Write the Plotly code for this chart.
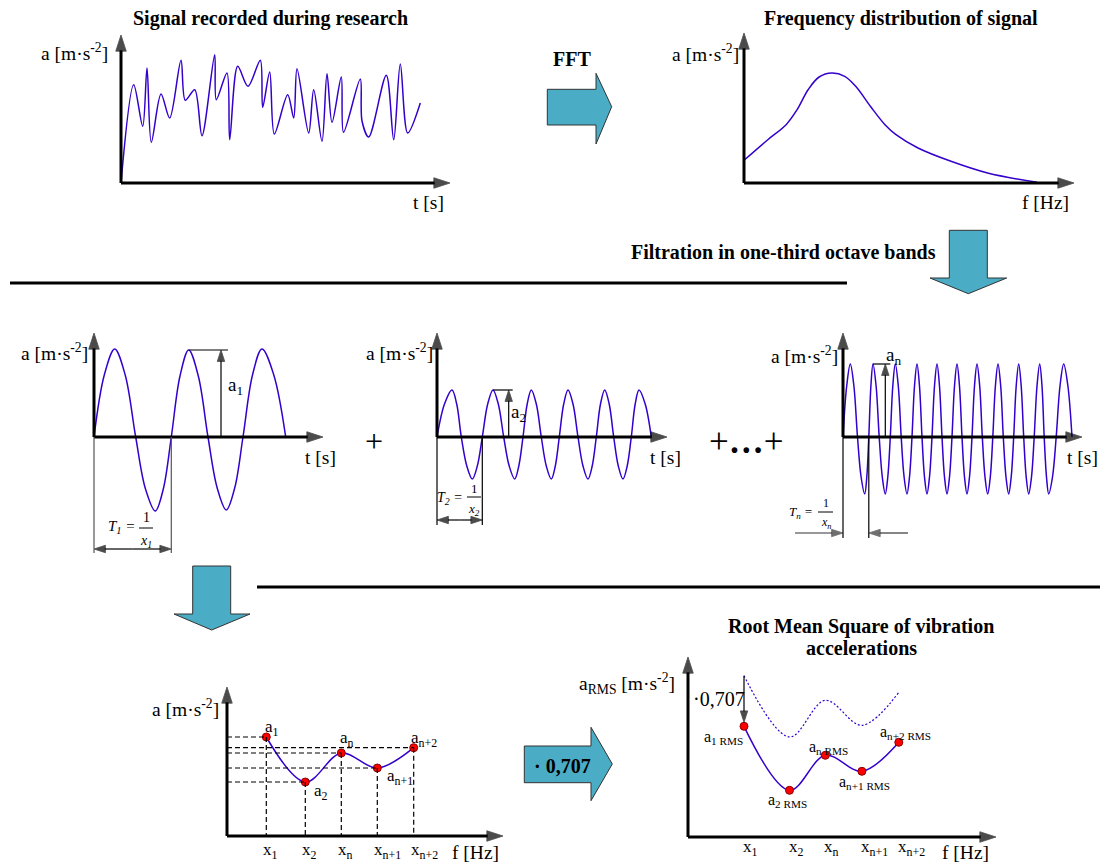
import plotly.graph_objects as go

W, H = 1102, 863
FONT = "Liberation Serif"
BLUE = "#3300CC"
ARROW_FILL = "#4BACC6"

# ---------------- data (arbitrary units) ----------------
# recorded signal: time / acceleration extremes
sig_t = [0, 12.7, 21.7, 26, 30.3, 40, 48.7, 60, 64.3, 73.7, 81, 93.7, 95.3, 106, 108.7,
         116.7, 127, 139.3, 141.7, 148.7, 153.3, 166.7, 172.7, 176, 187.7, 192.7, 201,
         206, 211, 220.3, 222.5, 239.3, 241, 247.7, 265.3, 272.7, 279.3, 286.7, 299.3]
sig_a = [0, 98.3, 56.7, 115, 40.7, 89, 65, 122.7, 82.7, 93.3, 47.3, 128.3, 83.3, 110, 43.3,
         116.7, 96.7, 122.7, 75.7, 111, 49, 88.3, 65, 114.3, 50, 93.3, 41.7,
         109.3, 60.7, 106, 50.7, 104, 62, 46, 107.7, 43.3, 119, 50, 80]

# frequency distribution
fft_f = [0, 23.8, 42.1, 53.1, 64.1, 75.1, 87.9, 100.7, 111.7, 126.4, 141, 152, 174, 207,
         243.6, 293]
fft_a = [22.7, 43.3, 58.3, 73.3, 93.3, 106, 110, 106.7, 96.7, 76.7, 58.3, 48.3, 35, 21.7,
         10, 0.7]

# band 1 sine
s1_t = [0, 10.3, 20.7, 31.2, 41.7, 51.5, 61.3, 69.3, 77.3, 86, 94.7, 104.3, 114, 123.2,
        132.3, 140.7, 149, 158.5, 168, 179.8, 191.7]
s1_a = [0, 62, 88, 62, 0, -52, -74, -52, 0, 61, 87, 61, 0, -51, -73, -51, 0, 62, 88, 62, 0]

# band 2 sine
s2_t = [0, 7.5, 15, 19.7, 24.3, 29.8, 35.3, 40.3, 45.3, 50.7, 56, 61.3, 66.7, 72.2, 77.7,
        81.8, 86, 90.2, 94.3, 99.3, 104.3, 109.3, 114.3, 118.3, 122.3, 126.7, 131, 136,
        141, 146, 151, 155.2, 159.3, 163.5, 167.7, 172.2, 176.7, 181.3, 186, 190.2, 194.3,
        198.2, 202, 208.2, 214.3]
s2_a = [0, 33, 47, 33, 0, -29, -42, -29, 0, 33, 47, 33, 0, -29, -42, -29, 0, 33, 47, 33, 0,
        -29, -42, -29, 0, 33, 47, 33, 0, -29, -42, -29, 0, 33, 47, 33, 0, -29, -42, -29, 0,
        33, 47, 33, 0]

# band n sine
sn_t = [0, 3.7, 7.3, 10.9, 14.5, 18.1, 21.7, 23.8, 25.8, 27.9, 30, 33.1, 36.2, 39.3, 42.3,
        44.8, 47.3, 49.8, 52.3, 55.3, 58.2, 61.1, 64, 66.5, 69, 71.5, 74, 76.5, 79, 81.5,
        84, 86.5, 89, 91.5, 94, 96.5, 99, 101.5, 104, 106.5, 109, 111.5, 114, 116.5, 119,
        121.5, 124, 126.5, 129, 131.5, 134, 136.7, 139.3, 142, 144.7, 147.3, 149.8, 152.4,
        155, 157.7, 160.3, 163, 165.7, 168.2, 170.7, 173.2, 175.7, 178.2, 180.7, 183.2,
        185.7, 188.5, 191.2, 194, 196.7, 199, 201.2, 203.5, 205.7, 209.5, 213.2, 217,
        220.7, 224.9, 229]
sn_a = [0, 51, 73, 51, 0, -40, -57, -40, 0, 51, 73, 51, 0, -40, -57, -40, 0,
        51, 73, 51, 0, -40, -57, -40, 0, 51, 73, 51, 0, -40, -57, -40, 0,
        51, 73, 51, 0, -40, -57, -40, 0, 51, 73, 51, 0, -40, -57, -40, 0,
        51, 73, 51, 0, -40, -57, -40, 0, 51, 73, 51, 0, -40, -57, -40, 0,
        51, 73, 51, 0, -40, -57, -40, 0, 51, 73, 51, 0, -40, -57, -40, 0,
        51, 73, 51, 0]

# band amplitudes
band_x = [39.3, 78.3, 114.3, 150.3, 186.7]
band_a = [99, 54, 83, 68, 88.3]
band_labels = ["a<sub>1</sub>", "a<sub>2</sub>", "a<sub>n</sub>", "a<sub>n+1</sub>", "a<sub>n+2</sub>"]
tick_labels = ["x<sub>1</sub>", "x<sub>2</sub>", "x<sub>n</sub>", "x<sub>n+1</sub>", "x<sub>n+2</sub>"]

# RMS
rms_x = [56, 101.5, 137.3, 173.9, 210.8]
rms_peak = [161.3, 100, 136.7, 111.7, 144.7]
rms_val = [110.7, 46.7, 81.7, 65.7, 94.7]
rms_labels = ["a<sub>1 RMS</sub>", "a<sub>2 RMS</sub>", "a<sub>n RMS</sub>",
              "a<sub>n+1 RMS</sub>", "a<sub>n+2 RMS</sub>"]

# ---------------- layout helpers ----------------
# panel: axis index, origin pixel (x, y), axis lengths (x, y) in px
panels = {
    "sig": (1, 121, 183, 329, 148),
    "fft": (2, 744, 183, 330, 150),
    "A":   (3, 94, 437, 229, 104),
    "B":   (4, 437, 437, 230, 104),
    "C":   (5, 843, 437, 239, 104),
    "D":   (6, 227, 836, 276, 149),
    "R":   (7, 688, 837, 308, 180),
}

layout = dict(width=W, height=H, margin=dict(l=0, r=0, t=0, b=0),
              paper_bgcolor="white", plot_bgcolor="rgba(0,0,0,0)", showlegend=False)


def axname(i, c):
    return f"{c}axis" if i == 1 else f"{c}axis{i}"


def ref(i, c):
    return c if i == 1 else f"{c}{i}"


for key, (i, ox, oy, lx, ly) in panels.items():
    layout[axname(i, "x")] = dict(domain=[0, 1], range=[-ox, W - ox], visible=False,
                                  fixedrange=True, anchor=ref(i, "y"))
    layout[axname(i, "y")] = dict(domain=[0, 1], range=[-(H - oy), oy], visible=False,
                                  fixedrange=True, anchor=ref(i, "x"))
# pixel axis for decorations
layout["xaxis8"] = dict(domain=[0, 1], range=[0, W], visible=False, fixedrange=True, anchor="y8")
layout["yaxis8"] = dict(domain=[0, 1], range=[H, 0], visible=False, fixedrange=True, anchor="x8")

fig = go.Figure()
annotations = []
shapes = []


def xr(p):
    return ref(panels[p][0], "x")


def yr(p):
    return ref(panels[p][0], "y")


def curve(p, x, y, width=1.5, dash="solid", smoothing=1.0):
    fig.add_trace(go.Scatter(x=x, y=y, xaxis=xr(p), yaxis=yr(p), mode="lines",
                             line=dict(color=BLUE, width=width, shape="spline",
                                       smoothing=smoothing, dash=dash),
                             hoverinfo="skip"))


def dots(p, x, y):
    fig.add_trace(go.Scatter(x=x, y=y, xaxis=xr(p), yaxis=yr(p), mode="markers",
                             marker=dict(size=8, color="#FF0000",
                                         line=dict(color="#8B0000", width=1)),
                             hoverinfo="skip"))


def arrow(p, x0, y0, x1, y1, width=1.2, size=12, color="black", standoff=0):
    """Line from (x0,y0) with an arrow head at (x1,y1)."""
    fig.add_trace(go.Scatter(
        x=[x0, x1], y=[y0, y1], xaxis=xr(p), yaxis=yr(p), mode="lines+markers",
        line=dict(color=color, width=width),
        marker=dict(symbol=["circle", "arrow"], size=[0, size], angleref="previous",
                    color=color, standoff=[0, standoff], line=dict(width=0.8, color=color)),
        hoverinfo="skip"))


def double_arrow(p, x0, x1, y, width=1.2, size=12, color="black"):
    xm = (x0 + x1) / 2
    arrow(p, xm, y, x0, y, width, size, color)
    arrow(p, xm, y, x1, y, width, size, color)


def axes(p):
    _, ox, oy, lx, ly = panels[p]
    arrow(p, 0, 0, lx, 0, width=3, size=17)
    arrow(p, 0, 0, 0, ly, width=3, size=17)


def line(p, x0, y0, x1, y1, width=1.2, color="black", dash="solid"):
    shapes.append(dict(type="line", xref=xr(p), yref=yr(p), x0=x0, y0=y0, x1=x1, y1=y1,
                       line=dict(color=color, width=width, dash=dash)))


def pline(x0, y0, x1, y1, width=1, color="black"):
    shapes.append(dict(type="line", xref="x8", yref="y8", x0=x0, y0=y0, x1=x1, y1=y1,
                       line=dict(color=color, width=width)))


def txt(x, y, text, size=19.5, xanchor="center", bold=False, italic=False, yanchor="middle"):
    if bold:
        text = f"<b>{text}</b>"
    if italic:
        text = f"<i>{text}</i>"
    annotations.append(dict(x=x, y=y, xref="x8", yref="y8", text=text, showarrow=False,
                            xanchor=xanchor, yanchor=yanchor,
                            font=dict(family=FONT, size=size, color="black")))


def block_arrow(path):
    shapes.append(dict(type="path", xref="x8", yref="y8", path=path,
                       fillcolor=ARROW_FILL, line=dict(color="#333333", width=1)))


AXLAB = "a [m·s<sup>-2</sup>]"

# ---------------- panel 1: signal ----------------
curve("sig", sig_t, sig_a, width=1.5, smoothing=0.9)
axes("sig")
txt(270, 18, "Signal recorded during research", 20, bold=True)
txt(110, 52, AXLAB, xanchor="right")
txt(428, 202, "t [s]")

# ---------------- FFT arrow ----------------
block_arrow("M547.3,89.3 L596,89.3 L596,73.3 L611.7,106.7 L596,144 L596,125 L547.3,125 Z")
txt(572, 59, "FFT", 20, bold=True)

# ---------------- panel 2: spectrum ----------------
curve("fft", fft_f, fft_a, width=1.5)
axes("fft")
txt(901, 18, "Frequency distribution of signal", 20, bold=True)
txt(741, 53, AXLAB, xanchor="right")
txt(1045, 202, "f [Hz]")

# ---------------- filtration ----------------
txt(783, 252, "Filtration in one-third octave bands", 20, bold=True)
block_arrow("M949.3,230.3 L987.3,230.3 L987.3,278 L1006.7,278 L968.3,293.7 L930,278 L949.3,278 Z")
pline(10, 283, 847, 283, width=3)

# ---------------- panel A ----------------
curve("A", s1_t, s1_a)
axes("A")
txt(90, 352, AXLAB, xanchor="right")
txt(320, 457, "t [s]")
arrow("A", 127, 0, 127, s1_a[10])
line("A", s1_t[10], s1_a[10], 134, s1_a[10])
txt(226, 386, "a<sub>1</sub>", 19, xanchor="left")
line("A", 0, 0, 0, -116, color="#555555")
line("A", s1_t[8], 0, s1_t[8], -116, color="#555555")
double_arrow("A", 0, s1_t[8], -112)
txt(137, 527, "T<sub>1</sub> =", 15, xanchor="right", italic=True)
txt(146, 517, "1", 14)
pline(139, 528, 153, 528)
txt(146, 541, "x<sub>1</sub>", 14, italic=True)

txt(374, 441, "+", 32)

# ---------------- panel B ----------------
curve("B", s2_t, s2_a)
axes("B")
txt(435, 352, AXLAB, xanchor="right")
txt(665, 457, "t [s]")
arrow("B", 71.7, 0, 71.7, s2_a[10])
line("B", s2_t[10], s2_a[10], 75.7, s2_a[10])
txt(509, 413, "a<sub>2</sub>", 19, xanchor="left")
line("B", 0, 0, 0, -88)
line("B", s2_t[8], 0, s2_t[8], -88)
double_arrow("B", 0, s2_t[8], -83)
txt(465, 498, "T<sub>2</sub> =", 14, xanchor="right", italic=True)
txt(474, 488, "1", 13)
pline(467, 497, 481, 497)
txt(474, 509, "x<sub>2</sub>", 13, italic=True)

txt(746, 441, "+<b>…</b>+", 35)

# ---------------- panel C ----------------
curve("C", sn_t, sn_a)
axes("C")
txt(840, 355, AXLAB, xanchor="right")
txt(1082, 457, "t [s]")
arrow("C", 42.3, 0, 42.3, sn_a[10])
line("C", sn_t[10], sn_a[10], 47.3, sn_a[10])
txt(884, 356, "a<sub>n</sub>", 19, xanchor="left")
line("C", 0, 0, 0, -101)
line("C", sn_t[8], 0, sn_t[8], -101)
arrow("C", -48, -96, 0, -96, color="#333333")
arrow("C", 65, -96, sn_t[8], -96, color="#333333")
txt(815, 512, "T<sub>n</sub> =", 13, xanchor="right", italic=True)
txt(826, 503, "1", 12)
pline(818, 512, 833, 512)
txt(826, 523, "x<sub>n</sub>", 12, italic=True)

# ---------------- second row separators ----------------
block_arrow("M192.7,566 L230.7,566 L230.7,614 L250,614 L211.7,630 L174,614 L192.7,614 Z")
pline(257, 587, 1100, 587, width=3)

# ---------------- panel D ----------------
for xv, av in zip(band_x, band_a):
    line("D", 0, av, xv, av, width=1.2, dash="5px,3px")
    line("D", xv, av, xv, 0, width=1.2, dash="5px,3px")
curve("D", band_x, band_a)
dots("D", band_x, band_a)
axes("D")
txt(221, 708, AXLAB, xanchor="right")
txt(475, 852, "f [Hz]")
label_pos_D = [(263, 728), (312, 792), (338, 739), (385, 777), (409, 739)]
for (lx, ly), lab in zip(label_pos_D, band_labels):
    txt(lx, ly, lab, 17, xanchor="left")
for xv, lab in zip(band_x, tick_labels):
    annotations.append(dict(x=xv, y=-15, xref=xr("D"), yref=yr("D"), text=lab, showarrow=False,
                            xanchor="left", yanchor="middle", xshift=-5,
                            font=dict(family=FONT, size=17, color="black")))

# ---------------- 0.707 arrow ----------------
block_arrow("M524.3,746 L591,746 L591,727.3 L612.3,764 L591,800.7 L591,782.7 L524.3,782.7 Z")
txt(562, 766, "· 0,707", 20, bold=True)

# ---------------- panel R ----------------
txt(861, 626, "Root Mean Square of vibration", 20, bold=True)
txt(861, 648, "accelerations", 20, bold=True)
curve("R", rms_x, rms_peak, width=1.2, dash="2px,2px")
curve("R", rms_x, rms_val)
dots("R", rms_x, rms_val)
axes("R")
arrow("R", rms_x[0], rms_peak[0], rms_x[0], rms_val[0], standoff=4)
txt(719, 699, "·0,707", 20)
txt(677, 683, "a<sub>RMS</sub> [m·s<sup>-2</sup>]", 19.5, xanchor="right")
txt(965, 852, "f [Hz]")
label_pos_R = [(702, 737), (766, 800), (807, 747), (837, 782), (878, 732)]
for (lx, ly), lab in zip(label_pos_R, rms_labels):
    txt(lx, ly, lab, 16, xanchor="left")
for xv, lab in zip(rms_x, tick_labels):
    annotations.append(dict(x=xv, y=-11, xref=xr("R"), yref=yr("R"), text=lab, showarrow=False,
                            xanchor="left", yanchor="middle", xshift=-3,
                            font=dict(family=FONT, size=17, color="black")))

layout["annotations"] = annotations
layout["shapes"] = shapes
fig.update_layout(**layout)
fig.write_html("out.html", config={"displayModeBar": False, "staticPlot": True},
               post_script="document.body.style.margin='0px';document.body.style.overflow='hidden';")
